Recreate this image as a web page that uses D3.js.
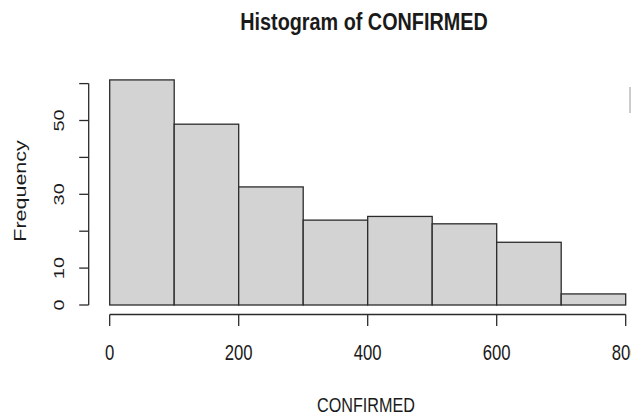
<!DOCTYPE html>
<html>
<head>
<meta charset="utf-8">
<script src="https://cdn.jsdelivr.net/npm/d3@7"></script>
<style>
  html, body { margin: 0; padding: 0; background: #fff; }
  svg { display: block; }
  text { font-family: "Liberation Sans", Arial, sans-serif; fill: #1a1a1a; }
</style>
</head>
<body>
<svg id="chart" width="631" height="415"></svg>
<script>
// ---- data ----
const binEdges = [0, 100, 200, 300, 400, 500, 600, 700, 800];
const counts = [61, 49, 32, 23, 24, 22, 17, 3];
const xTicks = [0, 200, 400, 600, 800];
const yTicks = [0, 10, 20, 30, 40, 50, 60];
const yLabelled = [0, 10, 30, 50];
const title = "Histogram of CONFIRMED";
const xLabel = "CONFIRMED";
const yLabel = "Frequency";

// ---- layout ----
const svg = d3.select("#chart");
const sx = 0.76; // horizontal squeeze of text in the reference
const x = d3.scaleLinear().domain([0, 800]).range([109.7, 625.7]);
const y = d3.scaleLinear().domain([0, 60]).range([305, 83.6]);
const stroke = "#2b2b2b";

const bins = counts.map((c, i) => ({x0: binEdges[i], x1: binEdges[i + 1], n: c}));

svg.append("g").selectAll("rect").data(bins).join("rect")
  .attr("x", d => x(d.x0))
  .attr("y", d => y(d.n))
  .attr("width", d => x(d.x1) - x(d.x0))
  .attr("height", d => y(0) - y(d.n))
  .attr("fill", "#d3d3d3")
  .attr("stroke", stroke)
  .attr("stroke-width", 1.3);

// y axis
const yAxisX = 88.7;
const yg = svg.append("g");
yg.append("line").attr("x1", yAxisX).attr("x2", yAxisX)
  .attr("y1", y(0)).attr("y2", y(60)).attr("stroke", stroke).attr("stroke-width", 1.3);
yg.selectAll("line.tk").data(yTicks).join("line").attr("class", "tk")
  .attr("x1", yAxisX - 9.5).attr("x2", yAxisX)
  .attr("y1", d => y(d)).attr("y2", d => y(d))
  .attr("stroke", stroke).attr("stroke-width", 1.3);
yg.selectAll("text").data(yLabelled).join("text")
  .attr("transform", d => `translate(64,${y(d)}) scale(${sx},1) rotate(-90)`)
  .attr("text-anchor", "middle")
  .attr("font-size", 20)
  .text(d => d);

// x axis
const xAxisY = 314.5;
const xg = svg.append("g");
xg.append("line").attr("x1", x(0)).attr("x2", x(800))
  .attr("y1", xAxisY).attr("y2", xAxisY).attr("stroke", stroke).attr("stroke-width", 1.3);
xg.selectAll("line.tk").data(xTicks).join("line").attr("class", "tk")
  .attr("x1", d => x(d)).attr("x2", d => x(d))
  .attr("y1", xAxisY).attr("y2", xAxisY + 11.5)
  .attr("stroke", stroke).attr("stroke-width", 1.3);
xg.selectAll("text").data(xTicks).join("text")
  .attr("transform", d => `translate(${x(d)},360) scale(${sx},1)`)
  .attr("text-anchor", "middle")
  .attr("font-size", 22)
  .text(d => d);

// titles
svg.append("text")
  .attr("transform", `translate(364,30) scale(0.85,1)`)
  .attr("text-anchor", "middle")
  .attr("font-size", 23.3)
  .attr("font-weight", "bold")
  .attr("fill", "#000")
  .text(title);

svg.append("text")
  .attr("transform", `translate(366,411.5) scale(0.77,1)`)
  .attr("text-anchor", "middle")
  .attr("font-size", 21)
  .text(xLabel);

svg.append("text")
  .attr("transform", `translate(26,191) scale(${sx},1) rotate(-90)`)
  .attr("text-anchor", "middle")
  .attr("font-size", 21.5)
  .text(yLabel);

// small grey edge artifact at the right border
svg.append("line").attr("x1", 630).attr("x2", 630).attr("y1", 87).attr("y2", 113)
  .attr("stroke", "#bbb").attr("stroke-width", 1.5);
</script>
</body>
</html>
